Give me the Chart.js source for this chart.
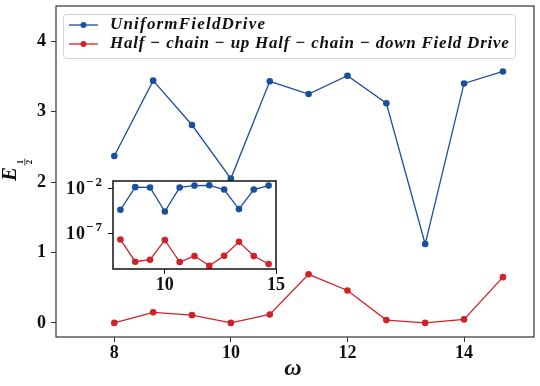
<!DOCTYPE html>
<html>
<head>
<meta charset="utf-8">
<script src="https://cdn.jsdelivr.net/npm/chart.js@4"></script>
<style>
  body { margin: 0; background: #fff; }
  #wrap { position: relative; width: 540px; height: 386px; }
  canvas { position: absolute; left: 0; top: 0; }
</style>
</head>
<body>
<div id="wrap">
  <canvas id="main" width="540" height="386"></canvas>
  <canvas id="inset" width="540" height="386"></canvas>
</div>
<script>
// data
const omega = [8, 8.667, 9.333, 10, 10.667, 11.333, 12, 12.667, 13.333, 14, 14.667];
const uniformE = [2.37, 3.44, 2.81, 2.05, 3.43, 3.25, 3.51, 3.12, 1.12, 3.40, 3.57];
const halfChainE = [0.0, 0.15, 0.11, 0.0, 0.12, 0.69, 0.46, 0.04, 0.0, 0.05, 0.65];
// inset (log scale)
const uniformInset = [3.9e-5, 1.3e-2, 1.2e-2, 2.5e-5, 1.2e-2, 1.95e-2, 2.1e-2, 7.1e-3, 4.7e-5, 7.1e-3, 1.95e-2];
const halfChainInset = [1.95e-8, 6.5e-11, 1.07e-10, 1.66e-8, 6.0e-11, 2.75e-10, 2.3e-11, 3.0e-10, 1.07e-8, 2.75e-10, 3.6e-11];

const xTicks = [8, 10, 12, 14];
const yTicks = [0, 1, 2, 3, 4];
const insetXTicks = [10, 15];
const insetYExp = [-2, -7];

const labels = ['UniformFieldDrive', 'Half \u2212 chain \u2212 up Half \u2212 chain \u2212 down Field Drive'];

const BLUE = '#1a4f9c';
const RED = '#cf2229';
const SERIF = '"Liberation Serif", "DejaVu Serif", serif';

function pts(xs, ys) {
  return xs.map((x, i) => ({ x: x, y: ys[i] }));
}

function series(label, ys, color) {
  return {
    label: label,
    data: pts(omega, ys),
    borderColor: color,
    backgroundColor: color,
    borderWidth: 1.3,
    pointRadius: 3.3,
    pointHoverRadius: 3.3,
    pointBorderWidth: 0
  };
}

// stretch legend text to the width it has in the figure
function fitText(ctx, text, x, y, width) {
  ctx.letterSpacing = '0px';
  const w = ctx.measureText(text).width;
  const gap = (width - w) / (text.length - 1);
  ctx.letterSpacing = gap.toFixed(2) + 'px';
  ctx.fillText(text, x, y);
  ctx.letterSpacing = '0px';
}

const mainDecor = {
  id: 'mainDecor',
  afterDraw(chart) {
    const ctx = chart.ctx;
    const a = chart.chartArea;
    ctx.save();
    ctx.strokeStyle = '#333';
    ctx.lineWidth = 1.2;
    ctx.strokeRect(a.left, a.top, a.right - a.left, a.bottom - a.top);

    // legend
    const lx = 63, ly = 14, lw = 452, lh = 44;
    ctx.fillStyle = 'rgba(255,255,255,0.85)';
    ctx.strokeStyle = '#d6d6d6';
    ctx.lineWidth = 1;
    ctx.beginPath();
    ctx.roundRect(lx + 0.5, ly + 0.5, lw, lh, 3);
    ctx.fill();
    ctx.stroke();
    const rows = [ly + 11, ly + 30];
    chart.data.datasets.forEach((ds, i) => {
      const y = rows[i];
      ctx.strokeStyle = ds.borderColor;
      ctx.lineWidth = 1.3;
      ctx.beginPath();
      ctx.moveTo(69, y);
      ctx.lineTo(98, y);
      ctx.stroke();
      ctx.fillStyle = ds.borderColor;
      ctx.beginPath();
      ctx.arc(83.5, y, 3, 0, Math.PI * 2);
      ctx.fill();
      ctx.fillStyle = '#111';
      ctx.font = 'bold italic 17px ' + SERIF;
      ctx.textBaseline = 'middle';
      ctx.textAlign = 'left';
      fitText(ctx, ds.label, 110, y, i === 0 ? 155 : 399);
    });

    // x title
    ctx.fillStyle = '#111';
    ctx.font = 'bold italic 24px ' + SERIF;
    ctx.textAlign = 'center';
    ctx.textBaseline = 'middle';
    ctx.fillText('\u03c9', 293, 369);

    // y title E_{1/2}
    ctx.translate(16, 181);
    ctx.rotate(-Math.PI / 2);
    ctx.font = 'bold italic 21px ' + SERIF;
    ctx.textAlign = 'left';
    ctx.textBaseline = 'alphabetic';
    ctx.fillText('E', 0, 0);
    const fx = 19;
    ctx.font = 'bold 9px ' + SERIF;
    ctx.textAlign = 'center';
    ctx.fillText('1', fx, 7);
    ctx.fillText('2', fx, 15.5);
    ctx.lineWidth = 0.8;
    ctx.strokeStyle = '#111';
    ctx.beginPath();
    ctx.moveTo(fx - 3.5, 8.8);
    ctx.lineTo(fx + 3.5, 8.8);
    ctx.stroke();
    ctx.restore();
  }
};

new Chart(document.getElementById('main').getContext('2d'), {
  type: 'line',
  data: {
    datasets: [
      series(labels[0], uniformE, BLUE),
      series(labels[1], halfChainE, RED)
    ]
  },
  options: {
    responsive: false,
    animation: false,
    events: [],
    layout: { padding: { left: 0, right: 6, top: 6, bottom: 0 } },
    plugins: { legend: { display: false }, tooltip: { enabled: false } },
    scales: {
      x: {
        type: 'linear',
        min: 7.0,
        max: 15.2,
        afterBuildTicks: s => { s.ticks = xTicks.map(v => ({ value: v })); },
        afterFit: s => { s.height = 49; s.paddingLeft = 0; s.paddingRight = 0; },
        grid: { drawOnChartArea: false, drawTicks: true, tickLength: 5, color: '#333' },
        border: { display: false },
        ticks: { color: '#111', padding: 1, font: { family: SERIF, size: 18, weight: 'bold' } }
      },
      y: {
        min: -0.2,
        max: 4.5,
        afterBuildTicks: s => { s.ticks = yTicks.map(v => ({ value: v })); },
        afterFit: s => { s.width = 56; s.paddingTop = 0; s.paddingBottom = 0; },
        grid: { drawOnChartArea: false, drawTicks: true, tickLength: 5, color: '#333' },
        border: { display: false },
        ticks: { color: '#111', padding: 5, font: { family: SERIF, size: 18, weight: 'bold' } }
      }
    }
  },
  plugins: [mainDecor]
});

const insetDecor = {
  id: 'insetDecor',
  beforeDraw(chart) {
    const ctx = chart.ctx;
    const a = chart.chartArea;
    ctx.save();
    ctx.fillStyle = '#fff';
    ctx.fillRect(a.left, a.top, a.right - a.left, a.bottom - a.top);
    ctx.restore();
  },
  afterDraw(chart) {
    const ctx = chart.ctx;
    const a = chart.chartArea;
    ctx.save();
    ctx.strokeStyle = '#111';
    ctx.lineWidth = 1.5;
    ctx.strokeRect(a.left, a.top, a.right - a.left, a.bottom - a.top);
    // y tick labels 10^n
    const ys = chart.scales.y;
    ctx.fillStyle = '#111';
    ctx.textBaseline = 'alphabetic';
    insetYExp.forEach(e => {
      const py = ys.getPixelForValue(Math.pow(10, e));
      ctx.font = 'bold 13px ' + SERIF;
      ctx.textAlign = 'right';
      const ex = '\u2212' + Math.abs(e);
      ctx.letterSpacing = '2px';
      ctx.fillText(ex, 104, py - 2);
      const w = ctx.measureText(ex).width;
      ctx.letterSpacing = '1px';
      ctx.font = 'bold 18px ' + SERIF;
      ctx.fillText('10', 104 - w, py + 6);
      ctx.letterSpacing = '0px';
    });
    ctx.restore();
  }
};

new Chart(document.getElementById('inset').getContext('2d'), {
  type: 'line',
  data: {
    datasets: [
      series(labels[0], uniformInset, BLUE),
      series(labels[1], halfChainInset, RED)
    ]
  },
  options: {
    responsive: false,
    animation: false,
    events: [],
    layout: { padding: { left: 63, right: 264, top: 181, bottom: 89 } },
    plugins: { legend: { display: false }, tooltip: { enabled: false } },
    scales: {
      x: {
        type: 'linear',
        min: 7.667,
        max: 15.0,
        afterBuildTicks: s => { s.ticks = insetXTicks.map(v => ({ value: v })); },
        afterFit: s => { s.height = 28; s.paddingLeft = 0; s.paddingRight = 0; },
        grid: { drawOnChartArea: false, drawTicks: true, tickLength: 5, color: '#111' },
        border: { display: false },
        ticks: { color: '#111', padding: 1, font: { family: SERIF, size: 18, weight: 'bold' } }
      },
      y: {
        type: 'logarithmic',
        min: 1e-11,
        max: Math.pow(10, -1.2),
        afterBuildTicks: s => { s.ticks = insetYExp.map(e => ({ value: Math.pow(10, e) })); },
        afterFit: s => { s.width = 50; s.paddingTop = 0; s.paddingBottom = 0; },
        grid: { drawOnChartArea: false, drawTicks: true, tickLength: 5, color: '#111' },
        border: { display: false },
        ticks: { callback: () => '', padding: 0 }
      }
    }
  },
  plugins: [insetDecor]
});
</script>
</body>
</html>
